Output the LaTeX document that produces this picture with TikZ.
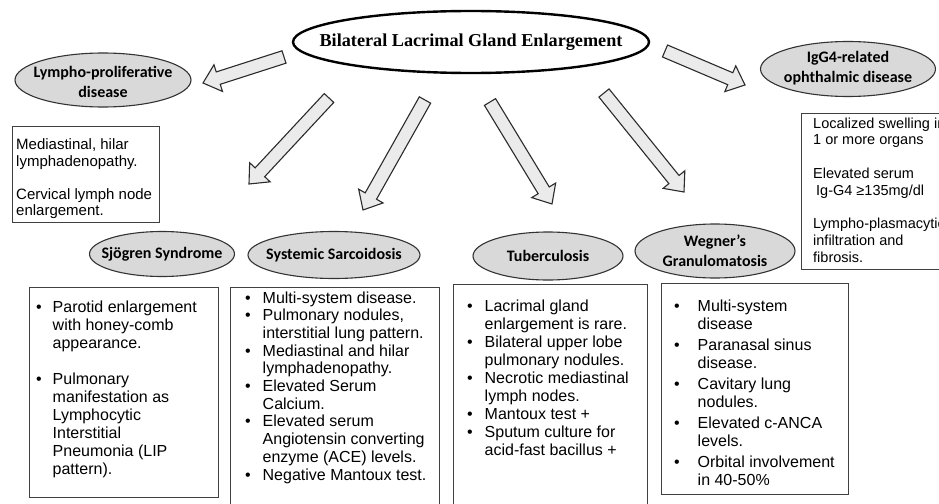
\documentclass[tikz,border=0pt]{standalone}
\usepackage{fontspec}
\setmainfont{Liberation Sans}
\newfontfamily\calfont{Carlito}
\newfontfamily\serfont{Liberation Serif}
\usetikzlibrary{calc,shapes.geometric}
\definecolor{ovalfill}{HTML}{D9D9D9}
\definecolor{ovalline}{HTML}{333333}
\definecolor{arrfill}{HTML}{EBEBEB}
\definecolor{arrline}{HTML}{2B2B2B}
\definecolor{boxline}{HTML}{404040}
\tikzset{
  oval/.style={ellipse, draw=ovalline, fill=ovalfill, line width=1.1pt, inner sep=0pt},
  ovaltext/.style={inner sep=0pt, align=center, font=\calfont\bfseries\fontsize{16}{20}\selectfont},
  mainoval/.style={ellipse, draw=black, fill=white, line width=2.4pt, inner sep=0pt},
  maintext/.style={inner sep=0pt, font=\serfont\bfseries\fontsize{18.2}{21}\selectfont},
  infobox/.style={draw=boxline, line width=1.1pt, anchor=north west, inner sep=0pt},
  listtext/.style={anchor=north west, inner sep=0pt},
  barrow/.style={draw=arrline, fill=arrfill, line width=1.1pt, line join=miter},
}
% block arrow from tail coordinate #1 to tip coordinate #2
\newcommand\blockarrow[2]{%
  \draw[barrow] ($(#1)!6.5pt!90:(#2)$)
    -- ($(#2)!16pt!(#1)!6.5pt!-90:(#1)$)
    -- ($(#2)!16pt!(#1)!14pt!-90:(#1)$)
    -- (#2)
    -- ($(#2)!16pt!(#1)!14pt!90:(#1)$)
    -- ($(#2)!16pt!(#1)!6.5pt!90:(#1)$)
    -- ($(#1)!6.5pt!-90:(#2)$) -- cycle;}
\begin{document}
\begin{tikzpicture}[x=1pt,y=-1pt]
\useasboundingbox (0,0) rectangle (939,503);
\clip (0,0) rectangle (939,503);

% main ellipse
\node[mainoval, minimum width=356pt, minimum height=62pt] (main) at (471,42) {};
\node[maintext] (maint) at (main.center) {Bilateral Lacrimal Gland Enlargement};

% category ellipses
\node[oval, minimum width=176pt, minimum height=54pt] (lym) at (103,80) {};
\node[ovaltext] (lymt) at (103,82) {Lympho-proliferative\\disease};
\node[oval, minimum width=175pt, minimum height=55pt] (igg) at (848,69) {};
\node[ovaltext] (iggt) at (848,68) {IgG4-related\\ophthalmic disease};
\node[oval, minimum width=145pt, minimum height=45pt] (sjo) at (162,254) {};
\node[ovaltext] (sjot) at (sjo.center) {Sjögren Syndrome};
\node[oval, minimum width=172pt, minimum height=47pt] (sar) at (334,255) {};
\node[ovaltext] (sart) at (sar.center) {Systemic Sarcoidosis};
\node[oval, minimum width=150pt, minimum height=48pt] (tub) at (548,256) {};
\node[ovaltext] (tubt) at (tub.center) {Tuberculosis};
\node[oval, minimum width=160pt, minimum height=54pt] (weg) at (715,251) {};
\node[ovaltext] (wegt) at (weg.center) {Wegner’s\\Granulomatosis};

% arrows
\coordinate (t1) at (284,57);  \coordinate (h1) at (203,83);
\coordinate (t2) at (329,98);  \coordinate (h2) at (249,184);
\coordinate (t3) at (425,100); \coordinate (h3) at (363,210);
\coordinate (t4) at (490,102); \coordinate (h4) at (552,204);
\coordinate (t5) at (604,93);  \coordinate (h5) at (684,192);
\coordinate (t6) at (665,51);  \coordinate (h6) at (745,85);
\blockarrow{t1}{h1}
\blockarrow{t2}{h2}
\blockarrow{t3}{h3}
\blockarrow{t4}{h4}
\blockarrow{t5}{h5}
\blockarrow{t6}{h6}

% information boxes
\node[infobox, minimum width=147pt, minimum height=96pt] (lymbox) at (12,126) {};
\node[listtext] (lymtxt) at (16,138) {\fontsize{15}{16.5}\selectfont
  \begin{tabular}{@{}l@{}}Mediastinal, hilar\\ lymphadenopathy.\\ \\ Cervical lymph node\\ enlargement.\end{tabular}};

\node[infobox, minimum width=160pt, minimum height=156pt] (iggbox) at (801,113) {};
\node[listtext] (iggtxt) at (813,116.3) {\fontsize{14.5}{16.75}\selectfont
  \begin{tabular}{@{}l@{}}Localized swelling in\\ 1 or more organs\\ \\ Elevated serum\\ \hspace{3pt}Ig-G4 ≥135mg/dl\\ \\ Lympho-plasmacytic\\ infiltration and\\ fibrosis.\end{tabular}};

\node[infobox, minimum width=189pt, minimum height=210pt] (sjobox) at (29,287) {};
\node[listtext] (sjotxt) at (36,299.5) {\fontsize{16}{18}\selectfont
  \begin{tabular}{@{}p{16.5pt}@{}l@{}}
  • & Parotid enlargement\\ & with honey-comb\\ & appearance.\\ & \\
  • & Pulmonary\\ & manifestation as\\ & Lymphocytic\\ & Interstitial\\ & Pneumonia (LIP\\ & pattern).
  \end{tabular}};

\node[infobox, minimum width=209pt, minimum height=240pt] (sarbox) at (230,287) {};
\node[listtext] (sartxt) at (245,290.5) {\fontsize{16}{17.7}\selectfont
  \begin{tabular}{@{}p{17.5pt}@{}l@{}}
  • & Multi-system disease.\\
  • & Pulmonary nodules,\\ & interstitial lung pattern.\\
  • & Mediastinal and hilar\\ & lymphadenopathy.\\
  • & Elevated Serum\\ & Calcium.\\
  • & Elevated serum\\ & Angiotensin converting\\ & enzyme (ACE) levels.\\
  • & Negative Mantoux test.
  \end{tabular}};

\node[infobox, minimum width=194pt, minimum height=240pt] (tubbox) at (453,284) {};
\node[listtext] (tubtxt) at (467,298.5) {\fontsize{16}{18}\selectfont
  \begin{tabular}{@{}p{17.5pt}@{}l@{}}
  • & Lacrimal gland\\ & enlargement is rare.\\
  • & Bilateral upper lobe\\ & pulmonary nodules.\\
  • & Necrotic mediastinal\\ & lymph nodes.\\
  • & Mantoux test +\\
  • & Sputum culture for\\ & acid-fast bacillus +
  \end{tabular}};

\node[infobox, minimum width=187pt, minimum height=211pt] (wegbox) at (661,283) {};
\node[listtext] (wegtxt) at (674,298.5) {\fontsize{16}{18}\selectfont
  \begin{tabular}{@{}p{23.5pt}@{}l@{}}
  • & Multi-system\\ & disease\\[3pt]
  • & Paranasal sinus\\ & disease.\\[3pt]
  • & Cavitary lung\\ & nodules.\\[3pt]
  • & Elevated c-ANCA\\ & levels.\\[3pt]
  • & Orbital involvement\\ & in 40-50\%
  \end{tabular}};
\end{tikzpicture}
\end{document}
